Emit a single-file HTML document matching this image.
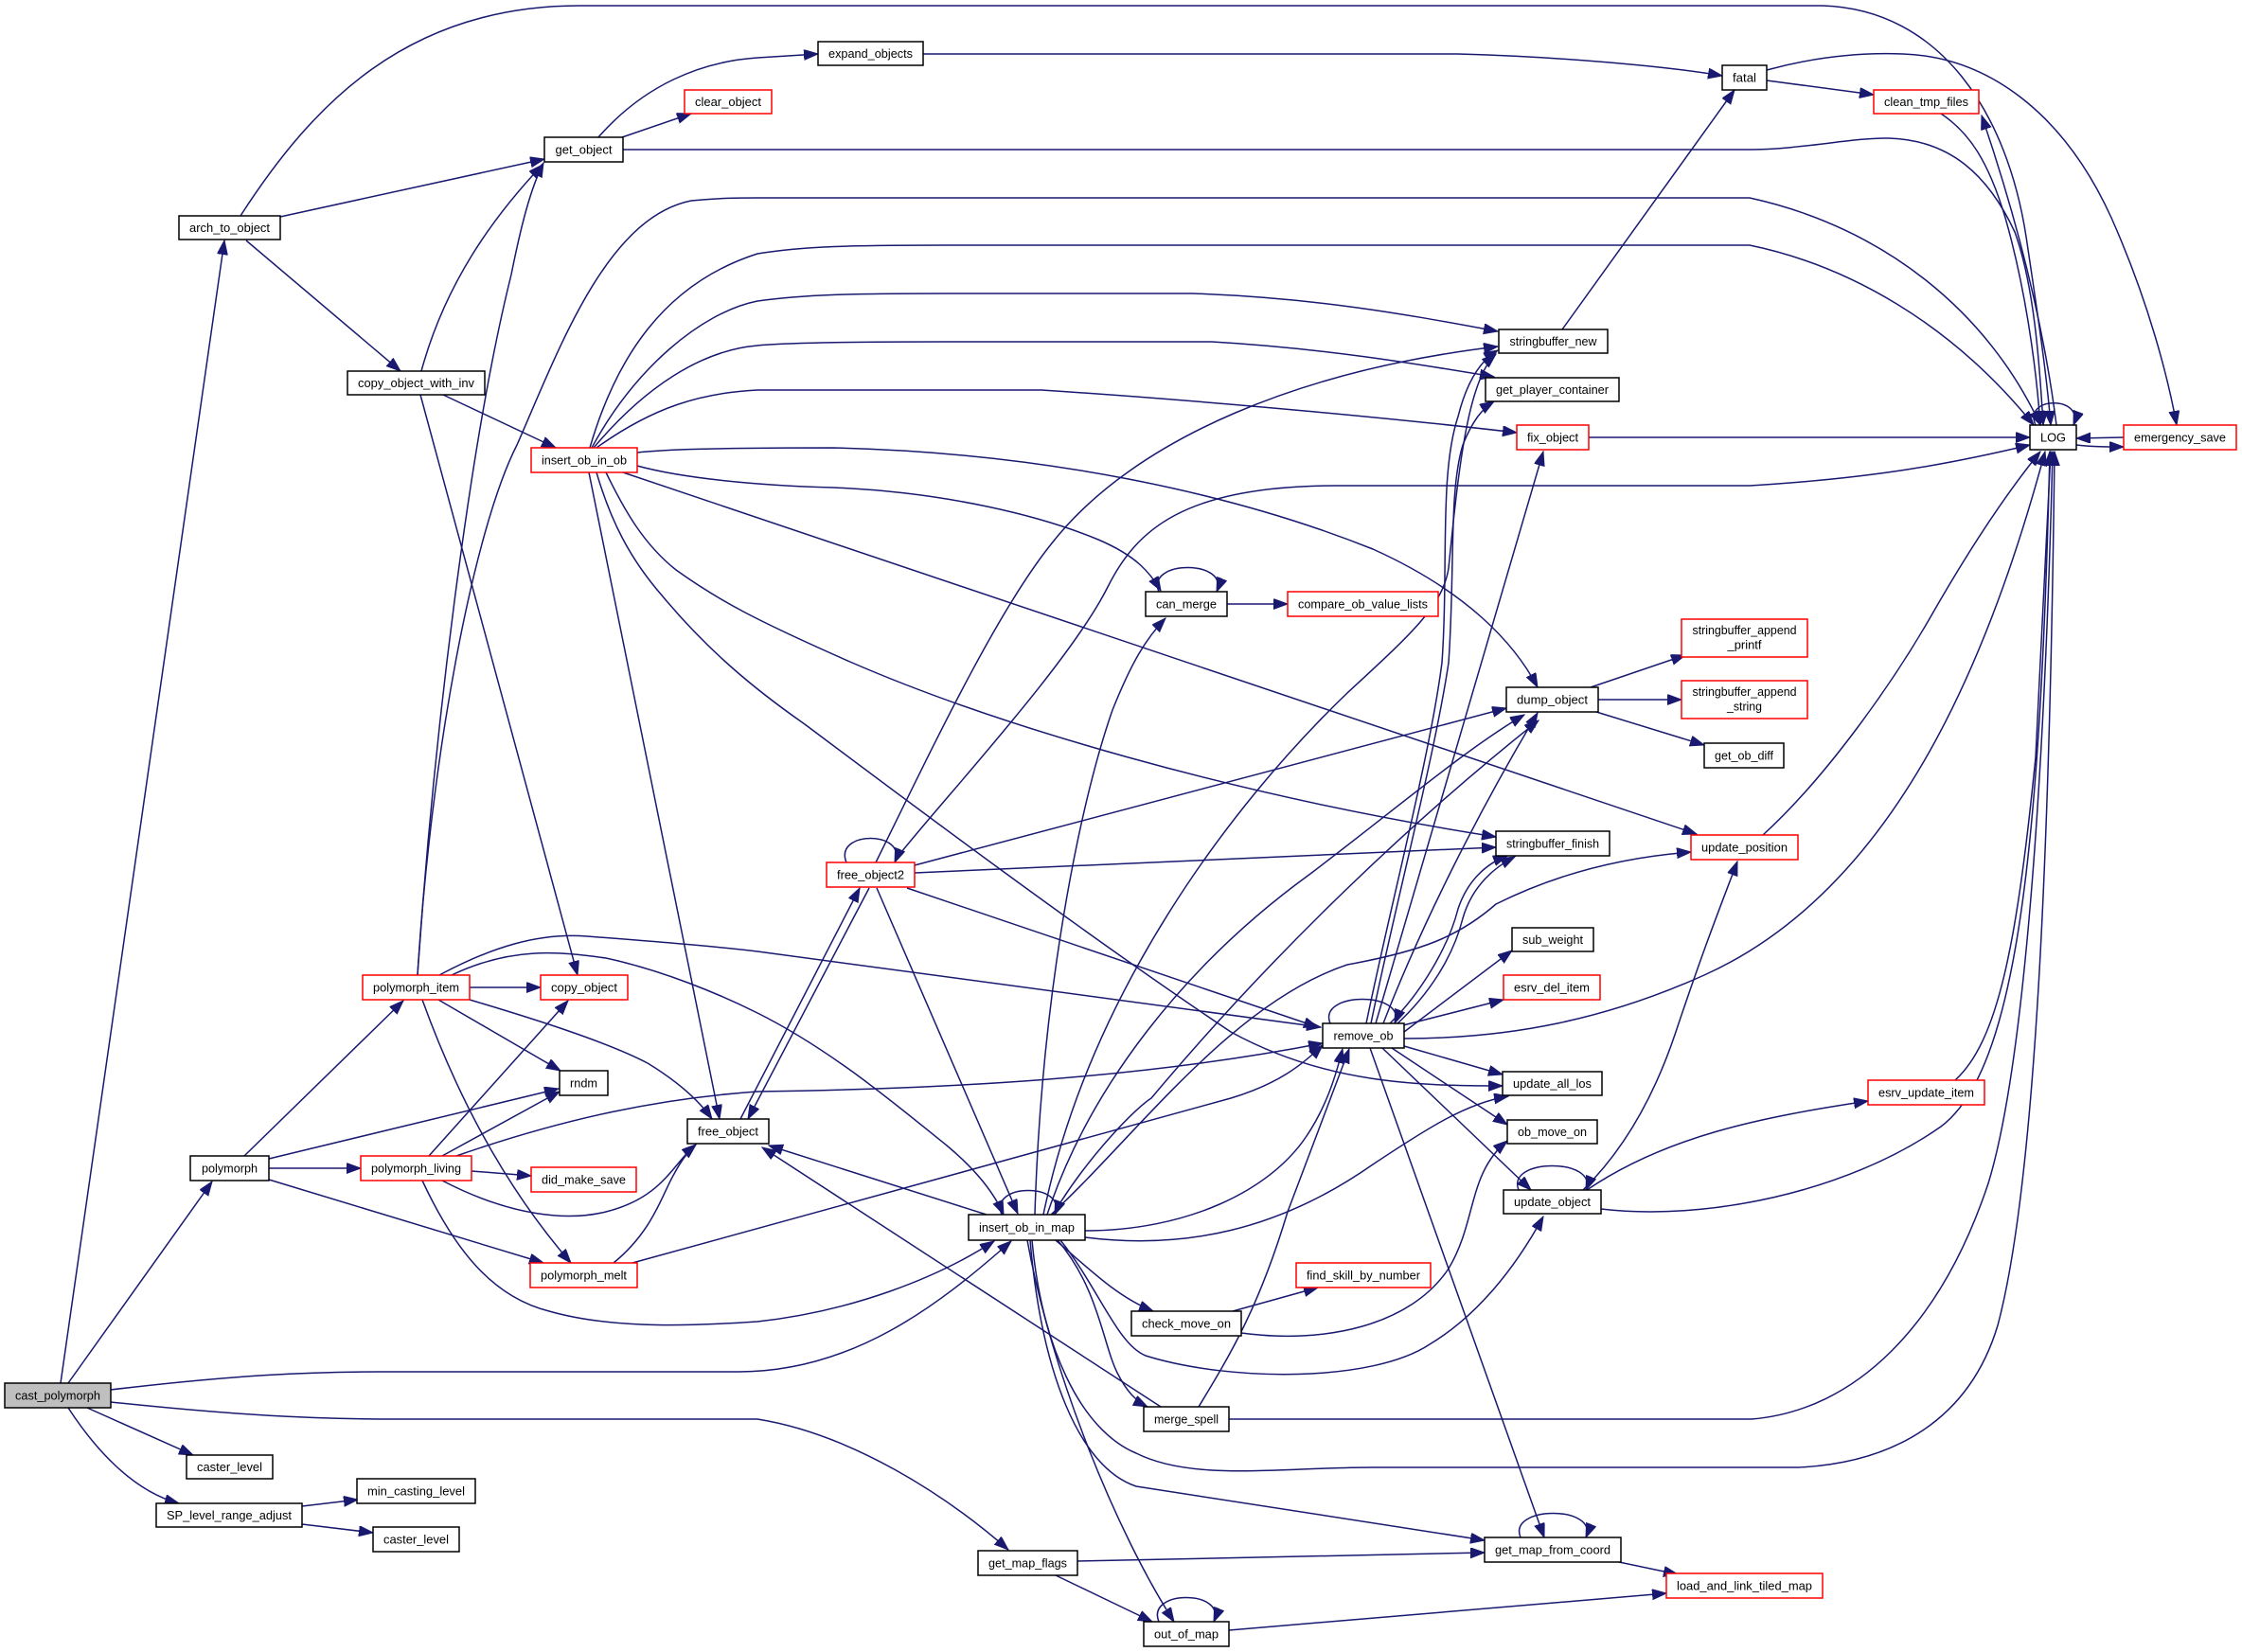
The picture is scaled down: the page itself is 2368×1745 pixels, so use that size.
<!DOCTYPE html>
<html><head><meta charset="utf-8"><style>
html,body{margin:0;padding:0;background:#fff;}
svg{display:block;}
text{font-family:"Liberation Sans",Arial,sans-serif;font-size:13px;fill:#000;}
</style></head><body>
<svg width="2368" height="1745" viewBox="0 0 2368 1745" xmlns="http://www.w3.org/2000/svg">
<defs>
<marker id="a" markerUnits="userSpaceOnUse" markerWidth="16" markerHeight="12" refX="15" refY="5.5" orient="auto">
<path d="M0,0 L15,5.5 L0,11 z" fill="#191970" stroke="#191970" stroke-width="1"/>
</marker>
</defs>
<rect width="2368" height="1745" fill="#fff"/>
<g fill="none" stroke="#191970" stroke-width="1.5" marker-end="url(#a)">
<!-- top section -->
<path d="M254,228 C330,110 430,6 612,6 L1925,6 C2050,10 2120,120 2140,250 C2155,350 2162,400 2166,449"/>
<path d="M296,229 L575,168"/>
<path d="M260,254 L423,392"/>
<path d="M632,145 C680,90 740,65 800,61 L864,57"/>
<path d="M657,145 L730,120"/>
<path d="M658,158 L1848,158 C1900,158 1960,145 1995,146 C2060,148 2100,185 2128,245 C2148,300 2154,380 2158,449"/>
<path d="M975,57 L1540,57 C1650,60 1760,70 1819,80"/>
<path d="M1866,85 L1979,100"/>
<path d="M1866,74 C1910,62 1960,55 2010,57 C2100,60 2180,120 2230,230 C2270,320 2290,400 2299,449"/>
<path d="M2050,120 C2080,140 2100,170 2118,230 C2138,300 2150,380 2155,449"/>
<path d="M2172,449 C2162,370 2140,260 2093,122"/>
<path d="M2150,449 C2136,418 2202,418 2190,449"/>
<path d="M2193,470 C2210,472 2225,472 2243,472"/>
<path d="M2243,462 L2193,463"/>
<path d="M1678,462 L2144,462"/>
<path d="M1650,348 L1832,95"/>
<!-- polymorph_item upward -->
<path d="M441,1030 C455,800 500,560 546,470 C590,370 640,230 730,212 C760,209 780,209 800,209 L1848,209 C1990,240 2100,330 2155,449"/>
<path d="M441,1030 C460,750 500,450 540,290 C550,240 560,200 574,172"/>
<!-- insert_ob_in_ob -->
<path d="M623,473 C650,380 700,300 800,268 C850,260 900,259 1000,259 L1848,259 C1950,280 2060,340 2148,449"/>
<path d="M625,473 C670,390 740,330 800,318 C850,311 900,310 1000,310 L1260,310 C1400,315 1500,335 1582,350"/>
<path d="M627,473 C680,410 740,370 800,365 C830,362 900,361 1000,361 L1280,361 C1400,368 1500,385 1578,398"/>
<path d="M630,473 C690,430 740,415 800,412 L1100,412 C1300,425 1500,445 1602,457"/>
<path d="M673,478 C700,475 750,473 880,473 C1100,478 1300,520 1450,580 C1550,625 1600,680 1624,726"/>
<path d="M673,492 C720,505 800,513 880,515 C1000,520 1100,545 1160,570 C1200,587 1215,605 1226,624"/>
<path d="M658,499 L1792,881"/>
<path d="M640,499 C660,540 680,575 714,602 C760,635 800,656 900,700 C1050,765 1300,840 1580,884"/>
<path d="M630,499 C645,550 665,590 700,630 C750,690 800,730 850,765 C950,840 1150,990 1300,1090 C1400,1145 1500,1147 1587,1147"/>
<path d="M622,499 L760,1182"/>
<!-- copy_object_with_inv -->
<path d="M445,392 C470,300 520,230 573,174"/>
<path d="M468,417 L587,473"/>
<path d="M444,417 L610,1030"/>
<!-- can_merge -->
<path d="M1224,625 C1210,591 1299,591 1285,625"/>
<path d="M1296,638 L1360,638"/>
<!-- dump_object -->
<path d="M1680,726 L1780,692"/>
<path d="M1688,739 L1776,739"/>
<path d="M1686,752 L1800,787"/>
<!-- update_position -->
<path d="M1862,882 C1930,820 2000,720 2040,650 C2080,580 2120,520 2155,477"/>
<!-- free_object2 -->
<path d="M894,911 C880,877 959,877 945,911"/>
<path d="M948,905 C1000,840 1130,700 1170,620 C1200,560 1250,513 1412,513 L1848,513 C1980,505 2060,490 2144,470"/>
<path d="M925,911 C980,800 1050,650 1110,575 C1200,460 1380,390 1582,366"/>
<path d="M966,914 L1591,748"/>
<path d="M966,922 L1580,895"/>
<path d="M958,938 L1392,1085"/>
<path d="M926,938 L1075,1282"/>
<path d="M782,1182 L908,938"/>
<path d="M918,938 L790,1182"/>
<!-- polymorph_item -->
<path d="M496,1056 C560,1075 640,1100 684,1123 C720,1145 740,1165 752,1182"/>
<path d="M496,1043 L571,1043"/>
<path d="M463,1056 L592,1131"/>
<path d="M446,1056 C480,1150 530,1250 603,1334"/>
<path d="M464,1030 C520,1000 570,985 620,989 C700,995 760,1000 800,1005 L1395,1085"/>
<path d="M477,1030 C540,1000 590,1005 640,1012 C700,1025 760,1050 800,1070 C880,1110 950,1170 1000,1210 C1030,1235 1050,1260 1060,1283"/>
<!-- polymorph -->
<path d="M258,1221 L426,1057"/>
<path d="M284,1224 L590,1150"/>
<path d="M284,1234 L381,1234"/>
<path d="M284,1246 L574,1334"/>
<!-- polymorph_living -->
<path d="M453,1221 L600,1057"/>
<path d="M467,1221 L591,1153"/>
<path d="M482,1221 C600,1180 700,1160 800,1153 C1000,1150 1200,1140 1397,1102"/>
<path d="M467,1247 C540,1285 600,1290 640,1280 C700,1265 710,1230 735,1209"/>
<path d="M498,1237 L561,1242"/>
<path d="M446,1247 C480,1320 520,1370 580,1385 C650,1405 740,1400 800,1396 C900,1385 990,1350 1050,1311"/>
<!-- polymorph_melt -->
<path d="M648,1334 C690,1300 700,1260 712,1240 C720,1225 728,1215 735,1209"/>
<path d="M668,1334 L1300,1160 C1350,1145 1375,1125 1397,1104"/>
<!-- cast_polymorph -->
<path d="M64,1461 L237,254"/>
<path d="M72,1461 L224,1248"/>
<path d="M117,1468 C250,1452 330,1449 400,1449 L780,1449 C900,1449 990,1380 1068,1311"/>
<path d="M117,1481 C250,1495 330,1499 420,1499 L800,1499 C900,1515 1000,1580 1065,1637"/>
<path d="M92,1487 L204,1537"/>
<path d="M72,1487 C100,1530 140,1575 189,1588"/>
<path d="M319,1591 L378,1584"/>
<path d="M319,1610 L394,1619"/>
<!-- insert_ob_in_map -->
<path d="M1058,1283 C1044,1249 1128,1249 1114,1283"/>
<path d="M1042,1283 L812,1210"/>
<path d="M1093,1283 C1100,1050 1140,850 1175,750 C1195,700 1210,675 1231,653"/>
<path d="M1106,1283 C1150,1150 1250,1020 1384,923 C1480,850 1550,790 1610,755"/>
<path d="M1112,1283 C1150,1220 1200,1170 1216,1160 C1350,1000 1500,860 1625,761"/>
<path d="M1102,1283 C1150,1050 1300,850 1423,732 C1490,670 1524,640 1530,600 C1540,500 1550,400 1580,374"/>
<path d="M1110,1283 C1200,1200 1300,1060 1423,1019 C1500,1005 1540,990 1580,955 C1650,920 1720,905 1786,900"/>
<path d="M1146,1300 C1250,1300 1340,1260 1380,1200 C1400,1170 1410,1140 1418,1108"/>
<path d="M1146,1307 C1250,1320 1350,1300 1450,1230 C1510,1190 1550,1165 1593,1158"/>
<path d="M1115,1310 C1150,1340 1180,1370 1218,1385"/>
<path d="M1117,1310 C1160,1360 1165,1420 1180,1450 C1190,1470 1200,1480 1212,1486"/>
<path d="M1120,1310 C1160,1360 1180,1420 1210,1432 C1300,1460 1450,1460 1510,1420 C1560,1390 1600,1340 1630,1285"/>
<path d="M1090,1310 C1100,1420 1140,1510 1200,1535 C1260,1565 1350,1550 1450,1550 L1900,1550 C2000,1545 2080,1500 2110,1400 C2150,1250 2165,900 2170,477"/>
<path d="M1088,1310 C1100,1450 1140,1550 1200,1570 L1568,1627"/>
<path d="M1085,1310 C1110,1450 1180,1620 1240,1713"/>
<!-- check_move_on / merge_spell -->
<path d="M1302,1385 L1392,1360"/>
<path d="M1311,1408 C1400,1420 1490,1400 1530,1340 C1560,1290 1550,1240 1592,1205"/>
<path d="M1226,1486 L805,1212"/>
<path d="M1266,1486 C1300,1430 1330,1380 1360,1280 L1425,1108"/>
<path d="M1298,1499 L1850,1499 C1960,1490 2050,1400 2100,1250 C2140,1120 2160,800 2168,477"/>
<!-- map functions -->
<path d="M1138,1649 L1568,1640"/>
<path d="M1115,1664 L1217,1713"/>
<path d="M1224,1713 C1210,1679 1296,1679 1282,1713"/>
<path d="M1298,1722 L1760,1683"/>
<path d="M1606,1624 C1592,1590 1689,1590 1675,1624"/>
<path d="M1710,1650 L1772,1663"/>
<!-- remove_ob -->
<path d="M1405,1081 C1391,1047 1487,1047 1473,1081"/>
<path d="M1443,1081 C1470,950 1510,800 1523,700 C1530,600 1520,500 1540,440 C1550,400 1565,380 1582,370"/>
<path d="M1448,1081 C1475,950 1515,800 1530,700 C1537,600 1530,520 1545,470 C1555,445 1565,432 1578,424"/>
<path d="M1453,1081 L1630,477"/>
<path d="M1461,1081 C1500,980 1560,860 1624,753"/>
<path d="M1468,1081 C1500,1050 1530,1000 1540,960 C1550,930 1570,912 1592,904"/>
<path d="M1474,1083 C1510,1050 1535,1010 1545,970 C1555,935 1580,915 1600,905"/>
<path d="M1483,1090 L1597,1004"/>
<path d="M1482,1083 L1588,1056"/>
<path d="M1483,1097 C1600,1097 1700,1075 1800,1030 C2000,940 2100,700 2160,477"/>
<path d="M1483,1105 L1587,1135"/>
<path d="M1470,1107 L1592,1188"/>
<path d="M1460,1107 L1617,1257"/>
<path d="M1447,1107 L1631,1624"/>
<!-- update_object -->
<path d="M1604,1257 C1590,1223 1689,1223 1675,1257"/>
<path d="M1676,1257 C1760,1200 1860,1180 1973,1163"/>
<path d="M1672,1257 C1720,1210 1750,1150 1770,1090 C1800,1000 1820,950 1835,910"/>
<path d="M1691,1277 C1800,1290 1950,1260 2050,1190 C2130,1130 2155,900 2165,477"/>
<path d="M2065,1141 C2110,1100 2130,1000 2150,800 L2166,477"/>
</g>
<g stroke-width="1.5">
<!-- black nodes -->
<g fill="#fff" stroke="#000">
<rect x="5" y="1461" width="112" height="26" fill="#bfbfbf"/>
<rect x="189" y="228" width="107" height="25"/>
<rect x="575" y="145" width="83" height="26"/>
<rect x="864" y="44" width="111" height="25"/>
<rect x="1819" y="69" width="47" height="26"/>
<rect x="2144" y="449" width="49" height="26"/>
<rect x="367" y="392" width="145" height="25"/>
<rect x="1583" y="348" width="115" height="25"/>
<rect x="1569" y="399" width="141" height="25"/>
<rect x="1210" y="625" width="86" height="26"/>
<rect x="1591" y="726" width="97" height="26"/>
<rect x="1800" y="785" width="84" height="26"/>
<rect x="1580" y="878" width="120" height="26"/>
<rect x="1597" y="980" width="86" height="25"/>
<rect x="1397" y="1081" width="86" height="26"/>
<rect x="591" y="1131" width="51" height="26"/>
<rect x="1587" y="1132" width="105" height="25"/>
<rect x="1592" y="1183" width="95" height="25"/>
<rect x="726" y="1182" width="86" height="26"/>
<rect x="201" y="1221" width="83" height="26"/>
<rect x="1588" y="1257" width="103" height="25"/>
<rect x="1023" y="1283" width="123" height="27"/>
<rect x="1195" y="1385" width="116" height="26"/>
<rect x="1208" y="1486" width="90" height="26"/>
<rect x="197" y="1537" width="91" height="25"/>
<rect x="377" y="1562" width="125" height="26"/>
<rect x="165" y="1588" width="154" height="25"/>
<rect x="394" y="1613" width="91" height="26"/>
<rect x="1033" y="1638" width="105" height="26"/>
<rect x="1568" y="1624" width="144" height="26"/>
<rect x="1208" y="1713" width="90" height="26"/>
</g>
<!-- red nodes -->
<g fill="#fff" stroke="#ff0000">
<rect x="723" y="95" width="92" height="25"/>
<rect x="1979" y="95" width="111" height="25"/>
<rect x="2243" y="449" width="119" height="26"/>
<rect x="561" y="473" width="112" height="26"/>
<rect x="1602" y="449" width="76" height="26"/>
<rect x="1360" y="625" width="159" height="26"/>
<rect x="1776" y="654" width="133" height="40"/>
<rect x="1776" y="719" width="133" height="40"/>
<rect x="1786" y="882" width="113" height="26"/>
<rect x="873" y="911" width="93" height="26"/>
<rect x="383" y="1030" width="113" height="26"/>
<rect x="571" y="1030" width="92" height="26"/>
<rect x="1588" y="1030" width="102" height="26"/>
<rect x="1973" y="1141" width="123" height="26"/>
<rect x="381" y="1221" width="117" height="26"/>
<rect x="561" y="1233" width="111" height="26"/>
<rect x="1369" y="1334" width="142" height="26"/>
<rect x="560" y="1334" width="113" height="26"/>
<rect x="1760" y="1662" width="165" height="26"/>
</g>
</g>
<g text-anchor="middle">
<text x="61" y="1478.5" textLength="90" lengthAdjust="spacingAndGlyphs">cast_polymorph</text>
<text x="242.5" y="245" textLength="85" lengthAdjust="spacingAndGlyphs">arch_to_object</text>
<text x="616.5" y="162.5" textLength="60" lengthAdjust="spacingAndGlyphs">get_object</text>
<text x="919.5" y="61" textLength="89" lengthAdjust="spacingAndGlyphs">expand_objects</text>
<text x="1842.5" y="86.5" textLength="25" lengthAdjust="spacingAndGlyphs">fatal</text>
<text x="2168.5" y="466.5" textLength="27" lengthAdjust="spacingAndGlyphs">LOG</text>
<text x="439.5" y="409" textLength="123" lengthAdjust="spacingAndGlyphs">copy_object_with_inv</text>
<text x="1640.5" y="365" textLength="92" lengthAdjust="spacingAndGlyphs">stringbuffer_new</text>
<text x="1639.5" y="416" textLength="119" lengthAdjust="spacingAndGlyphs">get_player_container</text>
<text x="1253" y="642.5" textLength="64" lengthAdjust="spacingAndGlyphs">can_merge</text>
<text x="1639.5" y="743.5" textLength="75" lengthAdjust="spacingAndGlyphs">dump_object</text>
<text x="1842" y="802.5" textLength="62" lengthAdjust="spacingAndGlyphs">get_ob_diff</text>
<text x="1640" y="895.5" textLength="98" lengthAdjust="spacingAndGlyphs">stringbuffer_finish</text>
<text x="1640" y="997" textLength="64" lengthAdjust="spacingAndGlyphs">sub_weight</text>
<text x="1440" y="1098.5" textLength="63" lengthAdjust="spacingAndGlyphs">remove_ob</text>
<text x="616.5" y="1148.5" textLength="29" lengthAdjust="spacingAndGlyphs">rndm</text>
<text x="1639.5" y="1149" textLength="83" lengthAdjust="spacingAndGlyphs">update_all_los</text>
<text x="1639.5" y="1200" textLength="73" lengthAdjust="spacingAndGlyphs">ob_move_on</text>
<text x="769" y="1199.5" textLength="64" lengthAdjust="spacingAndGlyphs">free_object</text>
<text x="242.5" y="1238.5" textLength="59" lengthAdjust="spacingAndGlyphs">polymorph</text>
<text x="1639.5" y="1274" textLength="81" lengthAdjust="spacingAndGlyphs">update_object</text>
<text x="1084.5" y="1301" textLength="101" lengthAdjust="spacingAndGlyphs">insert_ob_in_map</text>
<text x="1253" y="1402.5" textLength="94" lengthAdjust="spacingAndGlyphs">check_move_on</text>
<text x="1253" y="1503.5" textLength="68" lengthAdjust="spacingAndGlyphs">merge_spell</text>
<text x="242.5" y="1554" textLength="69" lengthAdjust="spacingAndGlyphs">caster_level</text>
<text x="439.5" y="1579.5" textLength="103" lengthAdjust="spacingAndGlyphs">min_casting_level</text>
<text x="242" y="1605" textLength="132" lengthAdjust="spacingAndGlyphs">SP_level_range_adjust</text>
<text x="439.5" y="1630.5" textLength="69" lengthAdjust="spacingAndGlyphs">caster_level</text>
<text x="1085.5" y="1655.5" textLength="83" lengthAdjust="spacingAndGlyphs">get_map_flags</text>
<text x="1640" y="1641.5" textLength="122" lengthAdjust="spacingAndGlyphs">get_map_from_coord</text>
<text x="1253" y="1730.5" textLength="68" lengthAdjust="spacingAndGlyphs">out_of_map</text>
<text x="769" y="112" textLength="70" lengthAdjust="spacingAndGlyphs">clear_object</text>
<text x="2034.5" y="112" textLength="89" lengthAdjust="spacingAndGlyphs">clean_tmp_files</text>
<text x="2302.5" y="466.5" textLength="97" lengthAdjust="spacingAndGlyphs">emergency_save</text>
<text x="617" y="490.5" textLength="90" lengthAdjust="spacingAndGlyphs">insert_ob_in_ob</text>
<text x="1640" y="466.5" textLength="54" lengthAdjust="spacingAndGlyphs">fix_object</text>
<text x="1439.5" y="642.5" textLength="137" lengthAdjust="spacingAndGlyphs">compare_ob_value_lists</text>
<text x="1842.5" y="670" textLength="110" lengthAdjust="spacingAndGlyphs">stringbuffer_append</text>
<text x="1842.5" y="685.5" textLength="36" lengthAdjust="spacingAndGlyphs">_printf</text>
<text x="1842.5" y="735" textLength="110" lengthAdjust="spacingAndGlyphs">stringbuffer_append</text>
<text x="1842.5" y="750.5" textLength="37" lengthAdjust="spacingAndGlyphs">_string</text>
<text x="1842.5" y="899.5" textLength="91" lengthAdjust="spacingAndGlyphs">update_position</text>
<text x="919.5" y="928.5" textLength="71" lengthAdjust="spacingAndGlyphs">free_object2</text>
<text x="439.5" y="1047.5" textLength="91" lengthAdjust="spacingAndGlyphs">polymorph_item</text>
<text x="617" y="1047.5" textLength="70" lengthAdjust="spacingAndGlyphs">copy_object</text>
<text x="1639" y="1047.5" textLength="80" lengthAdjust="spacingAndGlyphs">esrv_del_item</text>
<text x="2034.5" y="1158.5" textLength="101" lengthAdjust="spacingAndGlyphs">esrv_update_item</text>
<text x="439.5" y="1238.5" textLength="95" lengthAdjust="spacingAndGlyphs">polymorph_living</text>
<text x="616.5" y="1250.5" textLength="89" lengthAdjust="spacingAndGlyphs">did_make_save</text>
<text x="1440" y="1351.5" textLength="120" lengthAdjust="spacingAndGlyphs">find_skill_by_number</text>
<text x="616.5" y="1351.5" textLength="91" lengthAdjust="spacingAndGlyphs">polymorph_melt</text>
<text x="1842.5" y="1679.5" textLength="143" lengthAdjust="spacingAndGlyphs">load_and_link_tiled_map</text>
</g>
</svg>
</body></html>
